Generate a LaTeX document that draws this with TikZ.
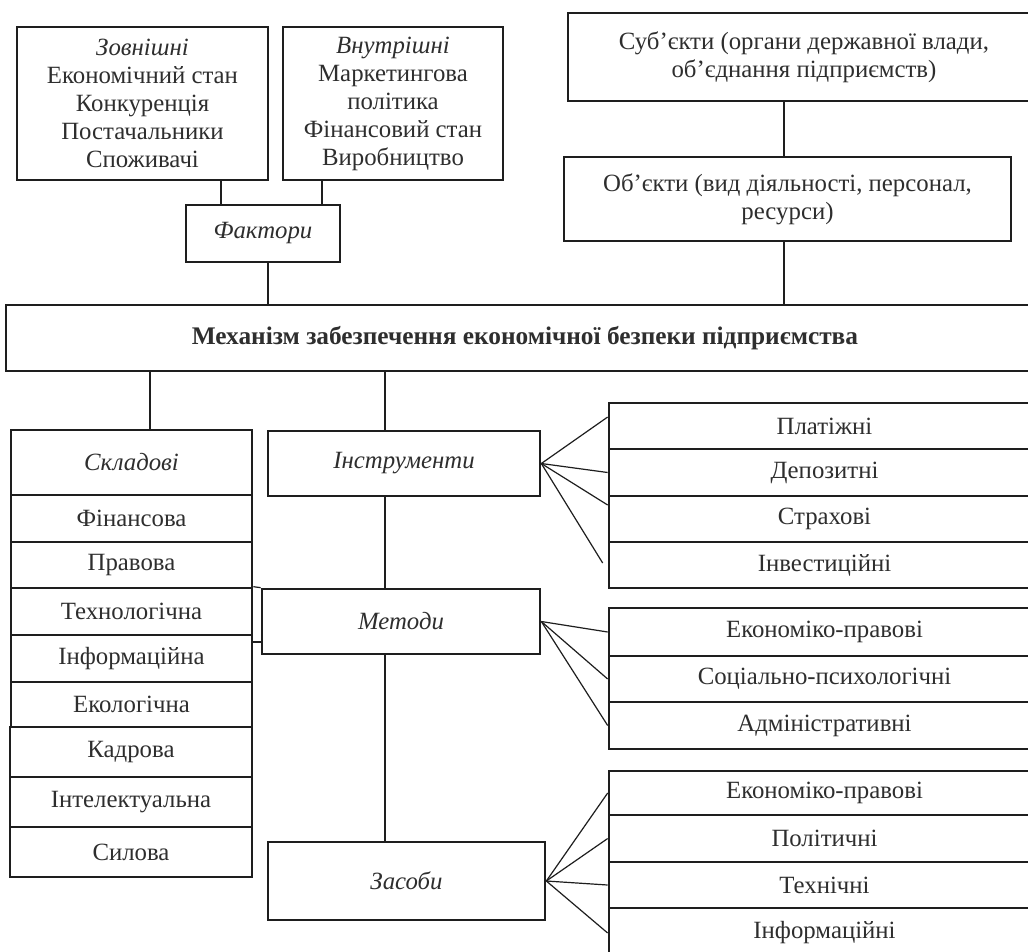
\documentclass[tikz,border=0pt]{standalone}
\usepackage{fontspec}
\setmainfont{Liberation Serif}
\usetikzlibrary{calc}
\definecolor{ink}{HTML}{1E1E1E}
\definecolor{txt}{HTML}{2E2E2E}
\tikzset{
 box/.style={draw=ink, line width=2pt, inner sep=0pt, align=center, text=txt, font=\fontsize{18.6}{21}\selectfont},
 conn/.style={draw=ink, line width=0.9pt},
}
% \bx[opts]{name}{x1}{y1}{x2}{y2}{text}
\newcommand\bx[7][]{\node[box,#1, minimum width={(#5-#3)*0.75pt}, minimum height={(#6-#4)*0.75pt}] (#2) at ({(#3+#5)/2},{(#4+#6)/2}) {#7};}
\begin{document}
\begin{tikzpicture}[x=0.75pt,y=-0.75pt]
\useasboundingbox (0,0) rectangle (1028,951);
\fill[white] (0,0) rectangle (1028,951);
\clip (0,0) rectangle (1028,951);
% top
\bx{zov}{17}{27}{268}{180}{\textit{Зовнішні}\\Економічний стан\\Конкуренція\\Постачальники\\Споживачі}
\bx{vnu}{283}{27}{503}{180}{\textit{Внутрішні}\\Маркетингова\\політика\\Фінансовий стан\\Виробництво}
\bx{fak}{186}{205}{340}{262}{\textit{Фактори}}
\bx{sub}{568}{13}{1040}{101}{Суб’єкти (органи державної влади,\\об’єднання підприємств)}
\bx{obj}{564}{157}{1011}{241}{Об’єкти (вид діяльності, персонал,\\ресурси)}
\bx[font=\fontsize{19}{21}\selectfont\bfseries]{mech}{6}{305}{1044}{371}{Механізм забезпечення економічної безпеки підприємства}
% left column
\bx{skl}{11}{430}{252}{495}{\textit{Складові}}
\bx{fin}{11}{495}{252}{542}{Фінансова}
\bx{pra}{11}{542}{252}{588}{Правова}
\bx{tech}{11}{588}{252}{635}{Технологічна}
\bx{inf}{11}{635}{252}{682}{Інформаційна}
\bx{eko}{11}{682}{252}{727}{Екологічна}
\bx{kad}{10}{727}{252}{777}{Кадрова}
\bx{int}{10}{777}{252}{827}{Інтелектуальна}
\bx{sil}{10}{827}{252}{877}{Силова}
% middle column
\bx{ins}{268}{431}{540}{496}{\textit{Інструменти}}
\bx{met}{262}{589}{540}{654}{\textit{Методи}}
\bx{zas}{268}{842}{545}{920}{\textit{Засоби}}
% right column
\bx{pl}{609}{403}{1040}{449}{Платіжні}
\bx{dep}{609}{449}{1040}{496}{Депозитні}
\bx{str}{609}{496}{1040}{542}{Страхові}
\bx{inv}{609}{542}{1040}{588}{Інвестиційні}
\bx{ek1}{609}{608}{1040}{656}{Економіко-правові}
\bx{soc}{609}{656}{1040}{702}{Соціально-психологічні}
\bx{adm}{609}{702}{1040}{749}{Адміністративні}
\bx{ek2}{609}{771}{1040}{815}{Економіко-правові}
\bx{pol}{609}{815}{1040}{862}{Політичні}
\bx{tex}{609}{862}{1040}{908}{Технічні}
\bx{inf2}{609}{908}{1040}{958}{Інформаційні}
% connector x positions
\coordinate (c1) at (221,0);
\coordinate (c2) at (322,0);
\coordinate (c3) at (268,0);
\coordinate (c4) at (784,0);
\coordinate (c5) at (150,0);
\coordinate (c6) at (385,0);
\coordinate (s1) at (0,642);
\draw[conn] (zov.south -| c1) -- (fak.north -| c1);
\draw[conn] (vnu.south -| c2) -- (fak.north -| c2);
\draw[conn] (fak.south -| c3) -- (mech.north -| c3);
\draw[conn] (sub.south -| c4) -- (obj.north -| c4);
\draw[conn] (obj.south -| c4) -- (mech.north -| c4);
\draw[conn] (mech.south -| c5) -- (skl.north -| c5);
\draw[conn] (mech.south -| c6) -- (ins.north -| c6);
\draw[conn] (ins.south -| c6) -- (met.north -| c6);
\draw[conn] (met.south -| c6) -- (zas.north -| c6);
\draw[conn] (tech.north east) -- (met.north west);
\draw[conn] (inf.east |- s1) -- (met.west |- s1);
% fans
\draw[conn] (ins.east) -- ($(pl.west)+(0,-9)$);
\draw[conn] (ins.east) -- (dep.west);
\draw[conn] (ins.east) -- ($(str.west)+(0,-14)$);
\draw[conn] (ins.east) -- ($(inv.west)+(-5,-2)$);
\draw[conn] (met.east) -- (ek1.west);
\draw[conn] (met.east) -- (soc.west);
\draw[conn] (met.east) -- (adm.west);
\draw[conn] (zas.east) -- (ek2.west);
\draw[conn] (zas.east) -- (pol.west);
\draw[conn] (zas.east) -- (tex.west);
\draw[conn] (zas.east) -- (inf2.west);
\end{tikzpicture}
\end{document}
